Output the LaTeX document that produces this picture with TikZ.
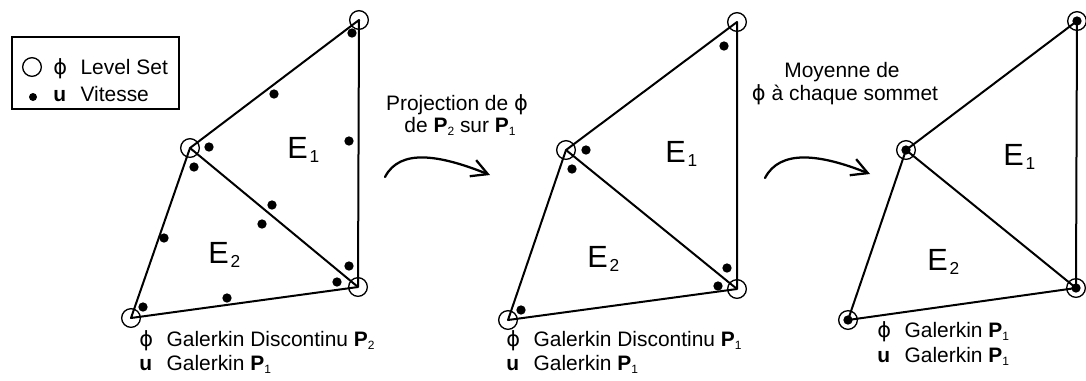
\documentclass[tikz,border=0pt]{standalone}
\usepackage{fontspec}
\setmainfont{Liberation Sans}
\newfontfamily\phifont{DejaVu Sans}
\usetikzlibrary{arrows.meta}
\newcommand{\phis}{{\phifont ϕ}}
\newcommand{\sub}[1]{\raisebox{-0.3ex}{\fontsize{9}{9}\selectfont #1}}
\newcommand{\lab}[2]{\makebox[20.5pt][l]{#1}#2}
\newcommand{\elem}[1]{E\kern1.5pt\raisebox{-3pt}{\fontsize{13}{13}\selectfont #1}}

\begin{document}
\begin{tikzpicture}[x=0.75pt, y=-0.75pt, font=\fontsize{15.7}{18}\selectfont,
    vtx/.style={circle, draw, line width=1pt, minimum size=14pt, inner sep=0pt},
    pt/.style={circle, fill, minimum size=7pt, inner sep=0pt},
    side/.style={line width=1.5pt, line join=round},
    txt/.style={inner sep=0pt, anchor=base west},
    elab/.style={inner sep=0pt, anchor=base west, font=\fontsize{23}{23}\selectfont},
    flow/.style={line width=1.7pt, line cap=round, -{Straight Barb[length=12pt,width=13pt]}}]
  \useasboundingbox (0,0) rectangle (1086,380);

  % Legend
  \node[draw, line width=1.1pt, inner sep=0pt, minimum width=125.25pt,
        minimum height=54pt] (legend) at (95.5,73) {};
  \node[vtx] (lgC) at (32,67) {};
  \node[pt, minimum size=6pt] (lgD) at (33,97) {};
  \node[txt] (lgPhi) at (53,74) {\lab{\phis}{Level Set}};
  \node[txt] (lgU) at (53,101) {\lab{\textbf{u}}{Vitesse}};

  % Element pair, DG P2
  \node[vtx] (a1) at (359,20) {};
  \node[vtx] (b1) at (190,148) {};
  \node[vtx] (c1) at (358,287) {};
  \node[vtx] (d1) at (131,318) {};
  \draw[side] (a1.center) -- (b1.center) -- (d1.center) -- (c1.center) -- cycle;
  \draw[side] (b1.center) -- (c1.center);
  \foreach \p [count=\i] in {(352,33),(274,94),(349,141),(209,147),(194,167),(272,205),
      (262,224),(164,238),(349,266),(337,282),(227,298),(143,307)}
    \node[pt] (u1-\i) at \p {};
  \node[elab] (E11) at (287,158) {\elem{1}};
  \node[elab] (E21) at (208,263) {\elem{2}};
  \node[txt] (phi1) at (139,346) {\lab{\phis}{Galerkin Discontinu \textbf{P}\sub{2}}};
  \node[txt] (vit1) at (139,370) {\lab{\textbf{u}}{Galerkin \textbf{P}\sub{1}}};

  % Projection
  \coordinate (s1) at (385,177);
  \coordinate (t1) at (490,175);
  \draw[flow] (s1) .. controls +(15,-29) and +(-50,-20) .. (t1);
  \node[inner sep=0pt, anchor=base] (projA) at (457,110) {Projection de \phis};
  \node[inner sep=0pt, anchor=base] (projB) at (460,132) {de \textbf{P}\sub{2} sur \textbf{P}\sub{1}};

  % Element pair, DG P1
  \node[vtx] (a2) at (737,22) {};
  \node[vtx] (b2) at (566,150) {};
  \node[vtx] (c2) at (737,289) {};
  \node[vtx] (d2) at (508,320) {};
  \draw[side] (a2.center) -- (b2.center) -- (d2.center) -- (c2.center) -- cycle;
  \draw[side] (b2.center) -- (c2.center);
  \foreach \p [count=\i] in {(724,46),(586,150),(572,169),(727,268),(718,286),(521,310)}
    \node[pt] (u2-\i) at \p {};
  \node[elab] (E12) at (665,162) {\elem{1}};
  \node[elab] (E22) at (587,267) {\elem{2}};
  \node[txt] (phi2) at (506,346) {\lab{\phis}{Galerkin Discontinu \textbf{P}\sub{1}}};
  \node[txt] (vit2) at (506,370) {\lab{\textbf{u}}{Galerkin \textbf{P}\sub{1}}};

  % Moyenne
  \coordinate (s2) at (765,178);
  \coordinate (t2) at (870,174);
  \draw[flow] (s2) .. controls +(15,-29) and +(-50,-20) .. (t2);
  \node[inner sep=0pt, anchor=base] (moyA) at (842,77) {Moyenne de};
  \node[inner sep=0pt, anchor=base] (moyB) at (845,100) {\phis{} à chaque sommet};

  % Element pair, continuous P1
  \node[vtx] (a3) at (1077,21) {};
  \node[vtx] (b3) at (906,150) {};
  \node[vtx] (c3) at (1076,288) {};
  \node[vtx] (d3) at (848,320) {};
  \draw[side] (a3.center) -- (b3.center) -- (d3.center) -- (c3.center) -- cycle;
  \draw[side] (b3.center) -- (c3.center);
  \foreach \v in {a3,b3,c3,d3}
    \node[pt] (u3-\v) at (\v) {};
  \node[elab] (E13) at (1003,165) {\elem{1}};
  \node[elab] (E23) at (927,270) {\elem{2}};
  \node[txt] (phi3) at (877,337) {\lab{\phis}{Galerkin \textbf{P}\sub{1}}};
  \node[txt] (vit3) at (877,362) {\lab{\textbf{u}}{Galerkin \textbf{P}\sub{1}}};
\end{tikzpicture}
\end{document}
